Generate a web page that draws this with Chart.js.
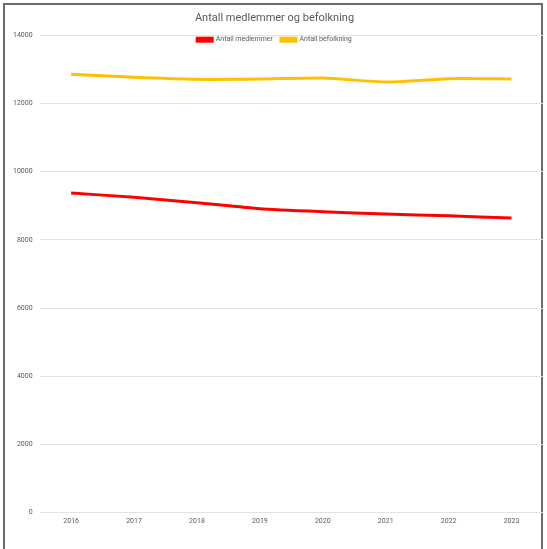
<!DOCTYPE html>
<html>
<head>
    <title>Antall medlemmer og befolkning</title>
    <meta charset="UTF-8">
    <script src="https://cdn.jsdelivr.net/npm/chart.js@4.4.1/dist/chart.umd.min.js"></script>
    <style>
        body { margin: 0; background: #fff; }
        #frame { position: absolute; left: 3px; top: 3px; width: 540px; height: 560px; border: 2px solid #6b6b6b; box-sizing: border-box; }
        #wrap { position: absolute; left: 0; top: 0; width: 547px; height: 549px; }
    </style>
</head>
<body>
    <div id="frame"></div>
    <div id="wrap"><canvas id="myChart"></canvas></div>

    <script>
        var years = ['2016', '2017', '2018', '2019', '2020', '2021', '2022', '2023'];
        var medlemmer = [9373, 9245, 9088, 8912, 8824, 8755, 8706, 8637];
        var befolkning = [12853, 12765, 12706, 12715, 12745, 12627, 12725, 12715];

        // legend sits on top of the plot, so it should take no layout space
        var flatLegend = {
            id: 'flatLegend',
            afterInit: function (chart) {
                var lg = chart.legend;
                var fit = lg.fit;
                lg.fit = function () {
                    fit.call(this);
                    this.height = 0;
                };
                lg.draw = function () {
                    if (!this.options.display) return;
                    this.ctx.save();
                    this.ctx.translate(0, -7);
                    this._draw();
                    this.ctx.restore();
                };
            }
        };

        var ctx = document.getElementById('myChart');
        var myChart = new Chart(ctx, {
            type: 'line',
            data: {
                labels: years,
                datasets: [{
                    label: 'Antall medlemmer',
                    data: medlemmer,
                    borderColor: '#ff0000',
                    backgroundColor: '#ff0000',
                    borderWidth: 3,
                    pointRadius: 0,
                    tension: 0.2
                }, {
                    label: 'Antall befolkning',
                    data: befolkning,
                    borderColor: '#ffc000',
                    backgroundColor: '#ffc000',
                    borderWidth: 3,
                    pointRadius: 0,
                    tension: 0.2
                }]
            },
            plugins: [flatLegend],
            options: {
                responsive: true,
                maintainAspectRatio: false,
                animation: false,
                layout: { padding: { left: 6, right: 4, top: 12, bottom: 20 } },
                plugins: {
                    title: {
                        display: true,
                        text: 'Antall medlemmer og befolkning',
                        color: '#595959',
                        font: { family: 'Roboto', size: 11, weight: 'normal' },
                        padding: { top: 0, bottom: 10 }
                    },
                    legend: {
                        position: 'top',
                        labels: {
                            color: '#595959',
                            font: { family: 'Roboto', size: 7 },
                            boxWidth: 15,
                            boxHeight: 3,
                            padding: 8
                        }
                    },
                    tooltip: { enabled: false }
                },
                scales: {
                    x: {
                        offset: true,
                        grid: { display: false, drawTicks: false },
                        border: { display: false },
                        ticks: { color: '#595959', font: { family: 'Roboto', size: 7 }, padding: 4, maxRotation: 0 }
                    },
                    y: {
                        min: 0,
                        max: 14000,
                        border: { display: false },
                        grid: { color: '#e3e3e3', drawTicks: false },
                        ticks: {
                            stepSize: 2000,
                            color: '#595959',
                            font: { family: 'Roboto', size: 7 },
                            padding: 7,
                            callback: function (v) { return String(v); }
                        }
                    }
                }
            }
        });
    </script>
</body>
</html>
